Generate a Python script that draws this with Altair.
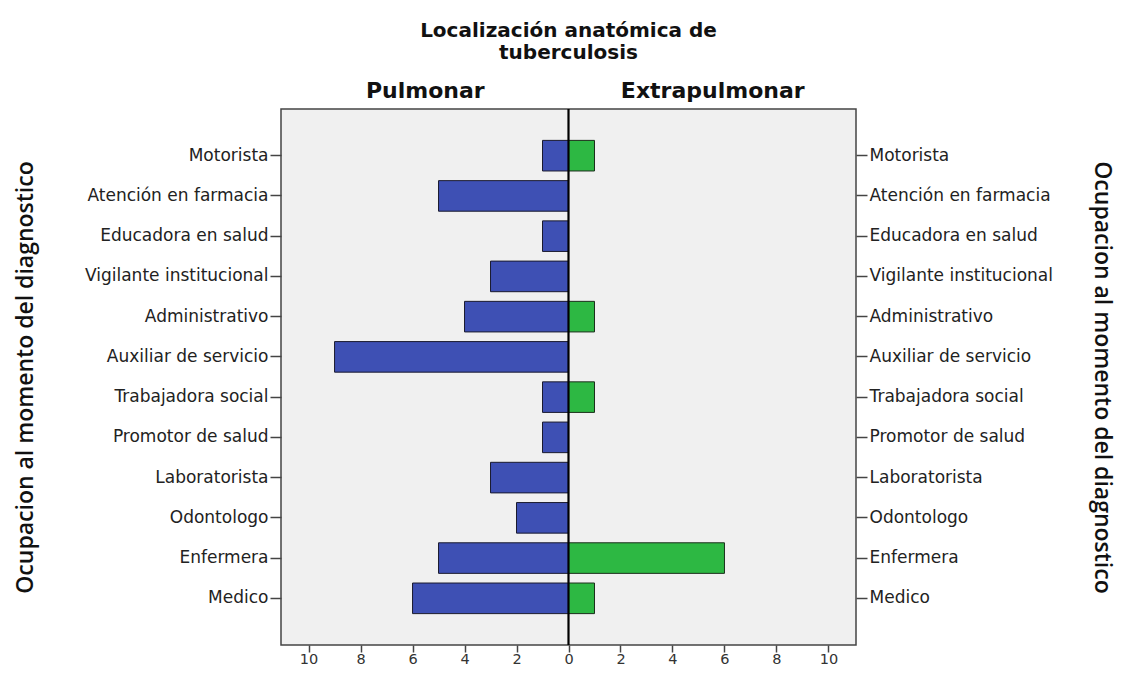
import altair as alt
import pandas as pd

categories = ["Motorista", "Atención en farmacia", "Educadora en salud",
              "Vigilante institucional", "Administrativo", "Auxiliar de servicio",
              "Trabajadora social", "Promotor de salud", "Laboratorista",
              "Odontologo", "Enfermera", "Medico"]
pulmonar = [1, 5, 1, 3, 4, 9, 1, 1, 3, 2, 5, 6]
extrapulmonar = [1, 0, 0, 0, 1, 0, 1, 0, 0, 0, 6, 1]
x_ticks = [-10, -8, -6, -4, -2, 0, 2, 4, 6, 8, 10]
x_max = 11.06
groups = ["Pulmonar", "Extrapulmonar"]

df_p = pd.DataFrame({"ocup": categories, "val": pulmonar})
df_e = pd.DataFrame({"ocup": categories, "val": extrapulmonar})
df_zero = pd.DataFrame({"z": [0]})

LABEL_FONT = "DejaVu Sans"
TITLE_FONT = "Open Sans"
YTITLE = "Ocupacion al momento del diagnostico"

yscale = alt.Scale(domain=categories, paddingInner=0.24, paddingOuter=0.78)
xscale = alt.Scale(domain=[-x_max, x_max], nice=False, zero=False)

left_bars = alt.Chart(df_p).transform_calculate(
    signed="-datum.val"
).mark_bar(color="#3E50B4", stroke="#1a1a2e", strokeWidth=1).encode(
    x=alt.X("signed:Q", scale=xscale,
            axis=alt.Axis(orient="bottom", values=x_ticks, labelExpr="abs(datum.value)",
                          grid=False, domain=False, tickSize=7, tickColor="#444",
                          tickWidth=1.5, labelFont=LABEL_FONT, labelFontSize=14.5,
                          labelColor="#333", labelPadding=0, title=None)),
    y=alt.Y("ocup:N", scale=yscale, sort=categories,
            axis=alt.Axis(orient="left", grid=False, domain=False, tickSize=11,
                          tickColor="#444", tickWidth=1.5, labelFont=LABEL_FONT,
                          labelFontSize=17, labelColor="#222", labelPadding=2,
                          labelLimit=400, title=YTITLE, titleLimit=600,
                          titleFont=TITLE_FONT, titleFontSize=23, titleFontWeight=600,
                          titleColor="#111", titleAngle=-90, titleAlign="center",
                          titleBaseline="middle", titleX=-256, titleY=268)),
)

right_bars = alt.Chart(df_e).transform_filter("datum.val > 0").mark_bar(
    color="#2DB843", stroke="#1a2e1a", strokeWidth=1
).encode(
    x=alt.X("val:Q", scale=xscale,
            axis=alt.Axis(orient="top", values=[-x_max / 2, x_max / 2],
                          labelExpr="datum.value < 0 ? '" + groups[0] + "' : '" + groups[1] + "'",
                          ticks=False, domain=False, grid=False, labelFont=LABEL_FONT,
                          labelFontSize=22, labelFontWeight="bold", labelColor="#111",
                          labelPadding=7, labelFlush=False, labelOverlap=False,
                          labelLimit=400, title=None)),
    y=alt.Y("ocup:N", scale=yscale, sort=categories,
            axis=alt.Axis(orient="right", grid=False, domain=False, tickSize=11,
                          tickColor="#444", tickWidth=1.5, labelFont=LABEL_FONT,
                          labelFontSize=17, labelColor="#222", labelPadding=2,
                          labelLimit=400, title=YTITLE, titleLimit=600,
                          titleFont=TITLE_FONT, titleFontSize=23, titleFontWeight=600,
                          titleColor="#111", titleAngle=90, titleAlign="center",
                          titleBaseline="middle", titleX=245, titleY=268)),
)

zero_rule = alt.Chart(df_zero).mark_rule(color="#000", strokeWidth=2.2).encode(
    x=alt.X("z:Q", scale=xscale, axis=None)
)

chart = alt.layer(left_bars, right_bars, zero_rule).resolve_axis(
    x="independent", y="independent"
).properties(
    width=575, height=536,
    title=alt.TitleParams(text=["Localización anatómica de", "tuberculosis"],
                          font=LABEL_FONT, fontSize=20, fontWeight="bold",
                          color="#111", anchor="middle", offset=16, lineHeight=22),
    autosize=alt.AutoSizeParams(type="none"),
    padding={"left": 273, "top": 101, "right": 263, "bottom": 22},
).configure(
    background="white",
    view=alt.ViewConfig(fill="#F0F0F0", stroke="#444", strokeWidth=1.5),
)

chart.save("out.html", embed_options={"renderer": "svg", "actions": False})
